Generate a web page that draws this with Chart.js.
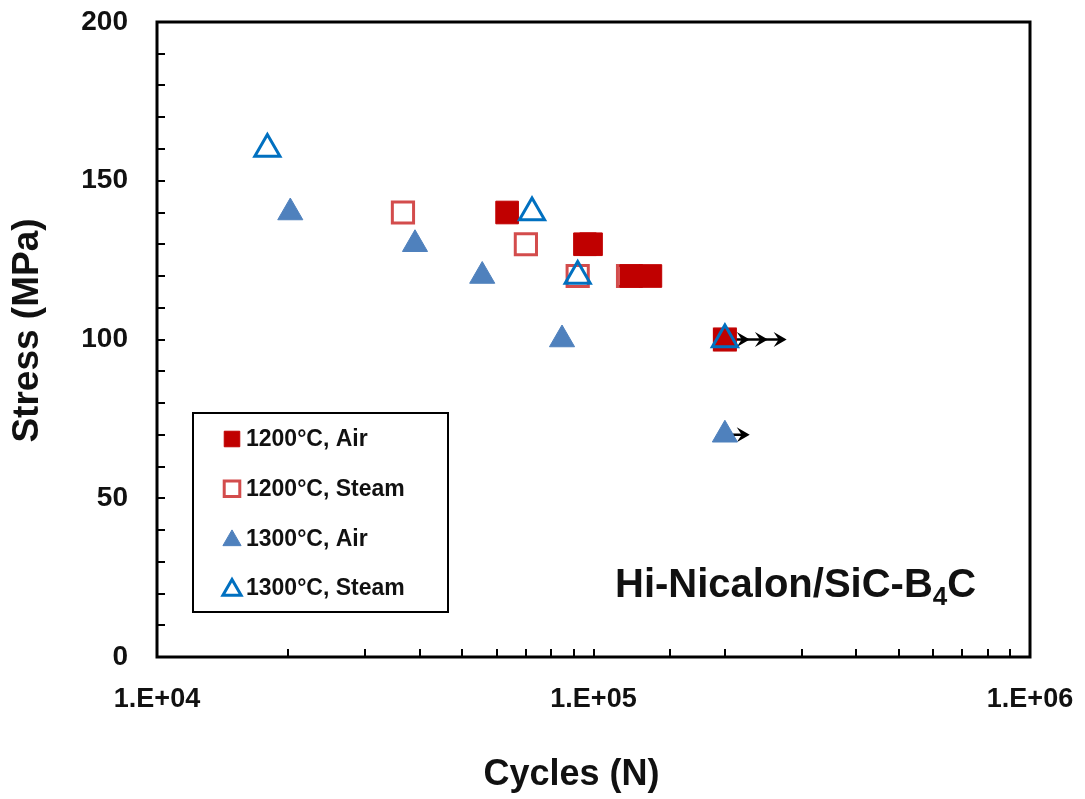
<!DOCTYPE html>
<html>
<head>
<meta charset="utf-8">
<script src="https://cdn.jsdelivr.net/npm/chart.js@4.4.1/dist/chart.umd.min.js"></script>
<style>
  html, body { margin: 0; padding: 0; background: #fff; }
  #wrap { width: 1085px; height: 799px; position: relative; }
</style>
</head>
<body>
<div id="wrap"><canvas id="chartSN"></canvas></div>
<script>
// ─── DATA ─────────────────────────────────────────────────────────────────────
const air1200Cycles   = [63400, 95600, 98700, 122000, 135000, 200000];
const air1200Stress   = [140, 130, 130, 120, 120, 100];
const steam1200Cycles = [36600, 70000, 92000, 120000, 200000];
const steam1200Stress = [140, 130, 120, 120, 100];
const air1300Cycles   = [20200, 39000, 55600, 84700, 200000];
const air1300Stress   = [140, 130, 120, 100, 70];
const steam1300Cycles = [17900, 72300, 92000, 200000];
const steam1300Stress = [160, 140, 120, 100];

// run-outs: arrow drawn from the point out to the arrow tips
const runoutCycles = [200000, 200000];
const runoutStress = [100, 70];
const runoutTips   = [[228000, 251000, 277000], [228000]];

const xLabelled   = [1e4, 1e5, 1e6];
const yLabelled   = [0, 50, 100, 150, 200];
const xTitle      = 'Cycles (N)';
const yTitle      = 'Stress (MPa)';
const legendOrder = ['1200°C, Air', '1200°C, Steam', '1300°C, Air', '1300°C, Steam'];

// ─── HELPERS ──────────────────────────────────────────────────────────────────
const FONT = "'Liberation Sans', Arial, sans-serif";
const pts  = (xs, ys) => xs.map((x, i) => ({ x, y: ys[i] }));

function fmtExp(v) {
  const e = Math.round(Math.log10(v));
  return '1.E+' + String(e).padStart(2, '0');
}

// frame round the plot area (top and right sides too)
const framePlugin = {
  id: 'frame',
  beforeDatasetsDraw(chart) {
    const { ctx, chartArea: a } = chart;
    ctx.save();
    ctx.strokeStyle = '#000';
    ctx.lineWidth = 3;
    ctx.strokeRect(a.left, a.top, a.right - a.left, a.bottom - a.top);
    ctx.restore();
  },
};

// axis titles (placed a little off-centre, as in the original)
const titlesPlugin = {
  id: 'axisTitles',
  afterDraw(chart) {
    const { ctx, chartArea: a } = chart;
    ctx.save();
    ctx.fillStyle = '#111';
    ctx.font = `bold 36px ${FONT}`;
    ctx.textAlign = 'center';
    ctx.textBaseline = 'middle';
    ctx.fillText(xTitle, (a.left + a.right) / 2 - 22, 775);
    ctx.translate(28, (a.top + a.bottom) / 2 - 9);
    ctx.rotate(-Math.PI / 2);
    ctx.font = `bold 37px ${FONT}`;
    ctx.fillText(yTitle, 0, 0);
    ctx.restore();
  },
};

// run-out arrows, under the markers
const arrowPlugin = {
  id: 'runouts',
  beforeDatasetsDraw(chart) {
    const { ctx, scales: { x, y } } = chart;
    ctx.save();
    ctx.strokeStyle = '#000';
    ctx.fillStyle = '#000';
    ctx.lineWidth = 2.5;
    runoutCycles.forEach((c, i) => {
      const py = y.getPixelForValue(runoutStress[i]);
      const tips = runoutTips[i].map(t => x.getPixelForValue(t));
      ctx.beginPath();
      ctx.moveTo(x.getPixelForValue(c), py);
      ctx.lineTo(tips[tips.length - 1] - 3, py);
      ctx.stroke();
      for (const tx of tips) {
        ctx.beginPath();
        ctx.moveTo(tx, py);
        ctx.lineTo(tx - 13, py - 7.5);
        ctx.lineTo(tx - 8, py);
        ctx.lineTo(tx - 13, py + 7.5);
        ctx.closePath();
        ctx.fill();
      }
    });
    ctx.restore();
  },
};

// boxed legend + material label inside the plot
const boxPlugin = {
  id: 'boxLegend',
  afterDatasetsDraw(chart) {
    const { ctx, chartArea: a } = chart;
    const bx = a.left + 36, by = a.top + 391, bw = 255, bh = 199;
    ctx.save();
    ctx.fillStyle = '#fff';
    ctx.fillRect(bx, by, bw, bh);
    ctx.strokeStyle = '#000';
    ctx.lineWidth = 2;
    ctx.strokeRect(bx, by, bw, bh);

    ctx.font = `bold 23px ${FONT}`;
    ctx.textBaseline = 'middle';
    legendOrder.forEach((lbl, i) => {
      const ds = chart.data.datasets.find(d => d.label === lbl);
      const cy = by + 26 + i * 49.7;
      ctx.fillStyle = ds.pointBackgroundColor;
      ctx.strokeStyle = ds.pointBorderColor;
      ctx.lineWidth = ds.pointBorderWidth;
      const r = ds.pointStyle === 'rect' ? 11 : 10.5;
      Chart.helpers.drawPoint(ctx, { pointStyle: ds.pointStyle, radius: r, borderWidth: ds.pointBorderWidth, rotation: 0 },
        bx + 39, ds.pointStyle === 'triangle' ? cy + 2 : cy);
      ctx.fillStyle = '#111';
      ctx.textAlign = 'left';
      ctx.fillText(lbl, bx + 53, cy + 1);
    });

    // Hi-Nicalon/SiC-B4C
    let tx = a.right - 415;
    const ty = a.bottom - 60;
    ctx.textBaseline = 'alphabetic';
    ctx.fillStyle = '#111';
    ctx.font = `bold 40px ${FONT}`;
    ctx.fillText('Hi-Nicalon/SiC-B', tx, ty);
    tx += ctx.measureText('Hi-Nicalon/SiC-B').width;
    ctx.font = `bold 26px ${FONT}`;
    ctx.fillText('4', tx, ty + 8);
    tx += ctx.measureText('4').width;
    ctx.font = `bold 40px ${FONT}`;
    ctx.fillText('C', tx, ty);
    ctx.restore();
  },
};

// ─── CHART ────────────────────────────────────────────────────────────────────
// first dataset is painted last (on top)
new Chart(document.getElementById('chartSN'), {
  type: 'scatter',
  data: {
    datasets: [
      {
        label: '1300°C, Steam',
        data: pts(steam1300Cycles, steam1300Stress),
        pointStyle: 'triangle', pointRadius: 14.5,
        pointBackgroundColor: 'rgba(0,0,0,0)', pointBorderColor: '#0070C0', pointBorderWidth: 3,
      },
      {
        label: '1300°C, Air',
        data: pts(air1300Cycles, air1300Stress),
        pointStyle: 'triangle', pointRadius: 14.5,
        pointBackgroundColor: '#4F81BD', pointBorderColor: '#4F81BD', pointBorderWidth: 1,
      },
      {
        label: '1200°C, Steam',
        data: pts(steam1200Cycles, steam1200Stress),
        pointStyle: 'rect', pointRadius: 15,
        pointBackgroundColor: 'rgba(0,0,0,0)', pointBorderColor: 'rgba(192,0,0,0.7)', pointBorderWidth: 3,
      },
      {
        label: '1200°C, Air',
        data: pts(air1200Cycles, air1200Stress),
        pointStyle: 'rect', pointRadius: 16,
        pointBackgroundColor: '#C00000', pointBorderColor: '#C00000', pointBorderWidth: 1,
      },
    ],
  },
  options: {
    responsive: true, maintainAspectRatio: false,
    animation: false,
    events: [],
    layout: { padding: { top: 22, right: 55, left: 0, bottom: 0 } },
    plugins: {
      legend: { display: false },
      tooltip: { enabled: false },
    },
    scales: {
      x: {
        type: 'logarithmic', min: 1e4, max: 1e6,
        afterFit: s => { s.height = 142; s.paddingLeft = 0; s.paddingRight = 0; },
        border: { display: false },
        grid: { drawOnChartArea: false, color: '#000', lineWidth: 2, tickLength: -8 },
        ticks: {
          autoSkip: false, maxRotation: 0, padding: 34, color: '#111',
          font: { family: FONT, size: 27, weight: 'bold' },
          callback: v => xLabelled.some(t => Math.abs(t - v) < 1e-6 * t) ? fmtExp(v) : '',
        },
      },
      y: {
        min: 0, max: 200,
        afterFit: s => { s.width = 157; s.paddingTop = 0; s.paddingBottom = 0; },
        border: { display: false },
        grid: { drawOnChartArea: false, color: '#000', lineWidth: 2, tickLength: -8 },
        ticks: {
          stepSize: 10, autoSkip: false, padding: 37, color: '#111',
          font: { family: FONT, size: 28, weight: 'bold' },
          callback: v => yLabelled.includes(v) ? String(v) : '',
        },
      },
    },
  },
  plugins: [framePlugin, arrowPlugin, boxPlugin, titlesPlugin],
});
</script>
</body>
</html>
